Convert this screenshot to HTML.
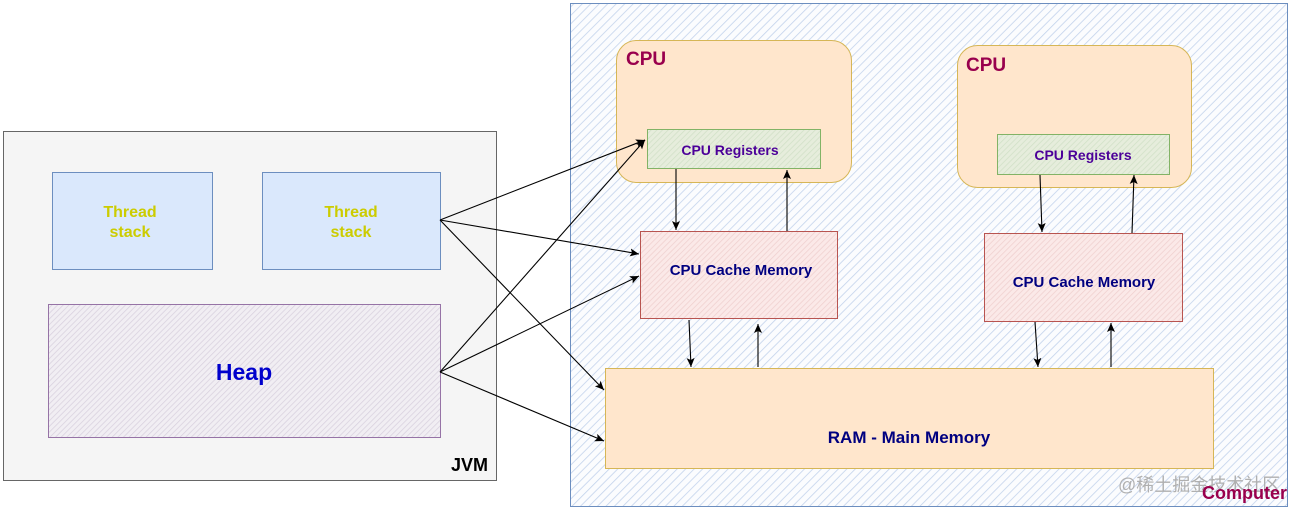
<!DOCTYPE html>
<html><head><style>body{margin:0;background:#fff}svg{display:block}text{font-family:"Liberation Sans","Noto Sans CJK SC",sans-serif;font-weight:bold}</style></head>
<body>
<svg width="1295" height="510" viewBox="0 0 1295 510" xmlns="http://www.w3.org/2000/svg">
<defs>
<pattern id="hb" width="6" height="6" patternUnits="userSpaceOnUse" patternTransform="rotate(45)"><rect width="6" height="6" fill="#fbfcfe"/><line x1="0" y1="0" x2="0" y2="6" stroke="#c3d3ec" stroke-width="1.6"/></pattern>
<pattern id="hp" width="4" height="4" patternUnits="userSpaceOnUse" patternTransform="rotate(45)"><rect width="4" height="4" fill="#f1eef3"/><line x1="0" y1="0" x2="0" y2="4" stroke="#d8d0de" stroke-width="1.5"/></pattern>
<pattern id="hg" width="4" height="4" patternUnits="userSpaceOnUse" patternTransform="rotate(45)"><rect width="4" height="4" fill="#e6eddc"/><line x1="0" y1="0" x2="0" y2="4" stroke="#d0e0c6" stroke-width="1.5"/></pattern>
<pattern id="hr" width="4" height="4" patternUnits="userSpaceOnUse" patternTransform="rotate(45)"><rect width="4" height="4" fill="#fbe9e8"/><line x1="0" y1="0" x2="0" y2="4" stroke="#efcfce" stroke-width="1.5"/></pattern>
<marker id="a" markerWidth="10" markerHeight="10" refX="9" refY="5" orient="auto" markerUnits="userSpaceOnUse"><path d="M0,1 L9,5 L0,9 L2,5 Z" fill="#000"/></marker>
</defs>
<rect x="570.5" y="3.5" width="717" height="503" fill="url(#hb)" stroke="#6c8ebf"/>
<rect x="3.5" y="131.5" width="493" height="349" fill="#f5f5f5" stroke="#666"/>
<rect x="52.5" y="172.5" width="160" height="97" fill="#dae8fc" stroke="#6c8ebf"/>
<rect x="262.5" y="172.5" width="178" height="97" fill="#dae8fc" stroke="#6c8ebf"/>
<text x="130" y="217" font-size="16" fill="#cccc00" text-anchor="middle">Thread</text>
<text x="130" y="237" font-size="16" fill="#cccc00" text-anchor="middle">stack</text>
<text x="351" y="217" font-size="16" fill="#cccc00" text-anchor="middle">Thread</text>
<text x="351" y="237" font-size="16" fill="#cccc00" text-anchor="middle">stack</text>
<rect x="48.5" y="304.5" width="392" height="133" fill="url(#hp)" stroke="#9673a6"/>
<text x="244" y="380" font-size="23" fill="#0000cc" text-anchor="middle">Heap</text>
<text x="488" y="471" font-size="18" fill="#000" text-anchor="end">JVM</text>
<rect x="616.5" y="40.5" width="235" height="142" rx="20" fill="#ffe6cc" stroke="#d6b656"/>
<text x="626" y="65" font-size="19" fill="#99004d">CPU</text>
<rect x="647.5" y="129.5" width="173" height="39" fill="url(#hg)" stroke="#82b366"/>
<text x="730" y="155" font-size="14" fill="#4c0099" text-anchor="middle">CPU Registers</text>
<rect x="957.5" y="45.5" width="234" height="142" rx="20" fill="#ffe6cc" stroke="#d6b656"/>
<text x="966" y="71" font-size="19" fill="#99004d">CPU</text>
<rect x="997.5" y="134.5" width="172" height="40" fill="url(#hg)" stroke="#82b366"/>
<text x="1083" y="160" font-size="14" fill="#4c0099" text-anchor="middle">CPU Registers</text>
<rect x="640.5" y="231.5" width="197" height="87" fill="url(#hr)" stroke="#b85450"/>
<text x="741" y="275" font-size="15" fill="#000080" text-anchor="middle">CPU Cache Memory</text>
<rect x="984.5" y="233.5" width="198" height="88" fill="url(#hr)" stroke="#b85450"/>
<text x="1084" y="287" font-size="15" fill="#000080" text-anchor="middle">CPU Cache Memory</text>
<rect x="605.5" y="368.5" width="608" height="100" fill="#ffe6cc" stroke="#d6b656"/>
<text x="909" y="443" font-size="17" fill="#000080" text-anchor="middle">RAM - Main Memory</text>
<g stroke="#000" stroke-width="1.1" fill="none" marker-end="url(#a)">
<line x1="440" y1="220" x2="645" y2="140"/>
<line x1="440" y1="220" x2="639" y2="254"/>
<line x1="440" y1="220" x2="604" y2="390"/>
<line x1="440" y1="372" x2="645" y2="140"/>
<line x1="440" y1="372" x2="639" y2="276"/>
<line x1="440" y1="372" x2="604" y2="441"/>
<line x1="676" y1="169" x2="676" y2="230"/>
<line x1="787" y1="231" x2="787" y2="170"/>
<line x1="689" y1="320" x2="691" y2="367"/>
<line x1="758" y1="367" x2="758" y2="324"/>
<line x1="1040" y1="175" x2="1042" y2="232"/>
<line x1="1132" y1="233" x2="1134" y2="175"/>
<line x1="1035" y1="322" x2="1038" y2="367"/>
<line x1="1111" y1="367" x2="1111" y2="323"/>
</g>
<text x="1118" y="491" font-size="18" fill="#b0b0b0" style="font-weight:normal">@稀土掘金技术社区</text>
<text x="1287" y="499" font-size="18" fill="#99004d" text-anchor="end">Computer</text>
</svg>
</body></html>
